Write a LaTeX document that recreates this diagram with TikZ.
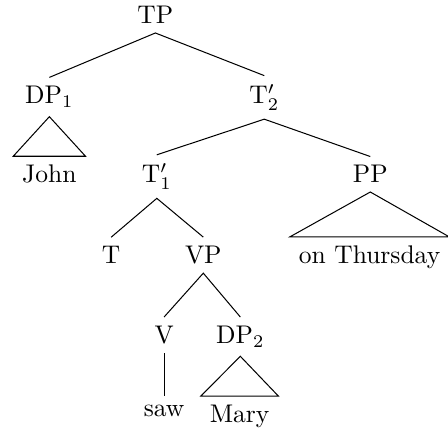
\documentclass[tikz,border=0pt]{standalone}
\begin{document}
\begin{tikzpicture}[label/.style={anchor=base}, branch/.style={thin}]
    \useasboundingbox (0,0) rectangle (6.17,-5.94);

    % Category labels
    \node[label] (tp) at (2.14,-0.33) {TP};
    \node[label] (dpone) at (0.68,-1.43) {DP$_1$};
    \node[label] (tbartwo) at (3.64,-1.43) {T$'_2$};
    \node[label] (tbarone) at (2.16,-2.52) {T$'_1$};
    \node[label] (pp) at (5.10,-2.52) {PP};
    \node[label] (t) at (1.53,-3.63) {T};
    \node[label] (vp) at (2.80,-3.63) {VP};
    \node[label] (v) at (2.26,-4.73) {V};
    \node[label] (dptwo) at (3.31,-4.73) {DP$_2$};

    % Words
    \node[label] (john) at (0.68,-2.52) {John};
    \node[label] (thursday) at (5.09,-3.63) {on Thursday};
    \node[label] (saw) at (2.26,-5.74) {saw};
    \node[label] (mary) at (3.30,-5.82) {Mary};

    % Branches
    \draw[branch] (dpone.north) -- (tp.south) -- (tbartwo.north);
    \draw[branch] (tbarone.north) -- (tbartwo.south) -- (pp.north);
    \draw[branch] (t.north) -- (tbarone.south) -- (vp.north);
    \draw[branch] (v.north) -- (vp.south) -- (dptwo.north);
    \draw[branch] (v.south) -- (saw.north);

    % Roofs
    \draw[branch] (dpone.south) -- (john.north west) -- (john.north east) -- cycle;
    \draw[branch] (pp.south) -- (thursday.north west) -- (thursday.north east) -- cycle;
    \draw[branch] (dptwo.south) -- (mary.north west) -- (mary.north east) -- cycle;

\end{tikzpicture}
\end{document}
